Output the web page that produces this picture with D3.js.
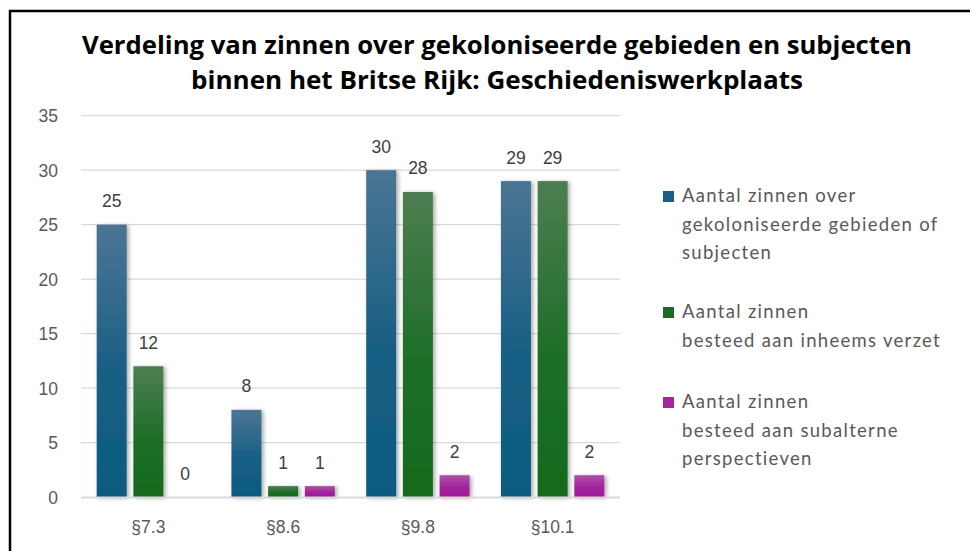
<!DOCTYPE html>
<html><head><meta charset="utf-8">
<script src="https://cdn.jsdelivr.net/npm/d3@7"></script>
<style>html,body{margin:0;padding:0;background:#fff;overflow:hidden}</style>
</head><body>
<svg id="chart" width="970" height="551"></svg>
<script>
const categories = ["§7.3", "§8.6", "§9.8", "§10.1"];
const seriesNames = [
  ["Aantal zinnen over", "gekoloniseerde gebieden of", "subjecten"],
  ["Aantal zinnen", "besteed aan inheems verzet"],
  ["Aantal zinnen", "besteed aan subalterne", "perspectieven"]
];
const colonized = [25, 8, 30, 29];
const resistance = [12, 1, 28, 29];
const subaltern = [0, 1, 2, 2];
const yTicks = [0, 5, 10, 15, 20, 25, 30, 35];
const titleLines = ["Verdeling van zinnen over gekoloniseerde gebieden en subjecten",
                    "binnen het Britse Rijk: Geschiedeniswerkplaats"];

const series = [colonized, resistance, subaltern];
const grad = [["#4b7594", "#0b5a80"], ["#4d7e52", "#126a1d"], ["#ab52a6", "#a0189a"]];
const legendCol = ["#1b5f82", "#1a6b25", "#a4259d"];

const svg = d3.select("#chart");
const defs = svg.append("defs");
grad.forEach((g, i) => {
  const lg = defs.append("linearGradient").attr("id", "g" + i)
    .attr("x1", 0).attr("y1", 0).attr("x2", 0).attr("y2", 1);
  lg.append("stop").attr("offset", "0%").attr("stop-color", g[0]);
  lg.append("stop").attr("offset", "55%").attr("stop-color", d3.interpolateRgb(g[0], g[1])(0.8));
  lg.append("stop").attr("offset", "100%").attr("stop-color", g[1]);
});
const f = defs.append("filter").attr("id", "sh").attr("x", "-30%").attr("y", "-10%").attr("width", "160%").attr("height", "130%");
f.append("feDropShadow").attr("dx", 2).attr("dy", 1).attr("stdDeviation", 2.2)
  .attr("flood-color", "#000").attr("flood-opacity", 0.35);

// frame
svg.append("rect").attr("x", 10).attr("y", 11).attr("width", 1000).attr("height", 600)
  .attr("fill", "none").attr("stroke", "#000").attr("stroke-width", 2.5);

// title
svg.selectAll("text.title").data(titleLines).join("text")
  .attr("class", "title")
  .attr("x", 497).attr("y", (d, i) => 54 + i * 35)
  .attr("text-anchor", "middle")
  .attr("font-family", "'Open Sans', sans-serif").attr("font-weight", 700)
  .attr("font-size", 24.5).attr("fill", "#000")
  .attr("textLength", (d, i) => i === 0 ? 830 : 612)
  .attr("lengthAdjust", "spacingAndGlyphs")
  .text(d => d);

const pLeft = 81, pRight = 620, pTop = 115.7, pBottom = 497;
const x = d3.scaleBand().domain(categories).range([pLeft, pRight]).padding(0);
const xi = d3.scaleBand().domain([0, 1, 2]).range([15.7, x.bandwidth() - 15.7]).paddingInner(0.1826);
const y = d3.scaleLinear().domain([0, 35]).range([pBottom, pTop]);

// grid
svg.append("g").selectAll("line").data(yTicks.filter(t => t > 0)).join("line")
  .attr("x1", pLeft).attr("x2", pRight)
  .attr("y1", d => y(d)).attr("y2", d => y(d))
  .attr("stroke", "#d9d9d9").attr("stroke-width", 1.2);

// y axis labels
svg.append("g").selectAll("text").data(yTicks).join("text")
  .attr("x", 58).attr("y", d => y(d) + 6.5)
  .attr("text-anchor", "end")
  .attr("font-family", "'Liberation Sans', Arial, sans-serif").attr("font-size", 17.5)
  .attr("fill", "#595959").text(d => d);

// bars
const groups = svg.append("g").selectAll("g").data(categories).join("g")
  .attr("transform", d => `translate(${x(d)},0)`);
groups.each(function (cat, ci) {
  const g = d3.select(this);
  series.forEach((s, si) => {
    const v = s[ci];
    if (v > 0) {
      g.append("rect")
        .attr("x", xi(si)).attr("width", xi.bandwidth())
        .attr("y", y(v)).attr("height", y(0) - y(v))
        .attr("fill", `url(#g${si})`).attr("filter", "url(#sh)");
    }
    g.append("text")
      .attr("x", xi(si) + xi.bandwidth() / 2).attr("y", y(v) - 17.5)
      .attr("text-anchor", "middle")
      .attr("font-family", "'Liberation Sans', Arial, sans-serif").attr("font-size", 17.5)
      .attr("fill", "#404040").text(v);
  });
});

// baseline
svg.append("line").attr("x1", pLeft).attr("x2", pRight).attr("y1", y(0) + 0.5).attr("y2", y(0) + 0.5)
  .attr("stroke", "#d9d9d9").attr("stroke-width", 2);

// x labels
svg.append("g").selectAll("text").data(categories).join("text")
  .attr("x", d => x(d) + x.bandwidth() / 2).attr("y", 533)
  .attr("text-anchor", "middle")
  .attr("font-family", "'Liberation Sans', Arial, sans-serif").attr("font-size", 17.5)
  .attr("fill", "#595959").text(d => d);

// legend
const legY = [202, 318, 408];
const lh = 28.5;
seriesNames.forEach((lines, i) => {
  svg.append("rect").attr("x", 663).attr("y", legY[i] - 11).attr("width", 11).attr("height", 11)
    .attr("fill", legendCol[i]);
  svg.append("g").selectAll("text").data(lines).join("text")
    .attr("x", 682).attr("y", (d, j) => legY[i] + j * lh)
    .attr("font-family", "Lato, sans-serif").attr("font-size", 18.5)
    .attr("letter-spacing", 1.3)
    .attr("fill", "#595959").text(d => d);
});
</script>
</body></html>
